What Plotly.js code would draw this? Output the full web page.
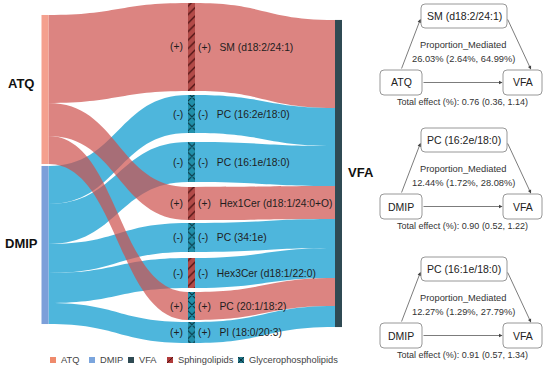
<!DOCTYPE html>
<html><head><meta charset="utf-8">
<script src="https://cdn.plot.ly/plotly-3.0.1.min.js"></script>
<style>html,body{margin:0;padding:0;background:#fff}#chart{width:554px;height:371px}</style>
</head><body><div id="chart"></div>
<script>
// ---------------- data ----------------
var exposures = ['ATQ', 'DMIP'];
var outcome = 'VFA';
var metabolites = ['SM (d18:2/24:1)', 'PC (16:2e/18:0)', 'PC (16:1e/18:0)', 'Hex1Cer (d18:1/24:0+O)',
                   'PC (34:1e)', 'Hex3Cer (d18:1/22:0)', 'PC (20:1/18:2)', 'PI (18:0/20:3)'];
var metaboliteClass = ['Sphingolipids', 'Glycerophospholipids', 'Glycerophospholipids', 'Sphingolipids',
                       'Glycerophospholipids', 'Sphingolipids', 'Glycerophospholipids', 'Glycerophospholipids'];
var metaboliteExposure = ['ATQ', 'DMIP', 'DMIP', 'ATQ', 'DMIP', 'DMIP', 'ATQ', 'DMIP'];
var flowValues = [88, 38, 40, 33, 29, 30, 28, 21];
var signExposure = ['+', '-', '-', '+', '-', '-', '+', '+'];
var signOutcome = ['+', '-', '-', '+', '-', '-', '+', '+'];

// mediation panels
var medExposure = ['ATQ', 'DMIP', 'DMIP'];
var medMediator = ['SM (d18:2/24:1)', 'PC (16:2e/18:0)', 'PC (16:1e/18:0)'];
var medProportion = ['26.03', '12.44', '12.27'];
var medPropLow = ['2.64', '1.72', '1.29'];
var medPropHigh = ['64.99', '28.08', '27.79'];
var totalEffect = ['0.76', '0.90', '0.91'];
var totalLow = ['0.36', '0.52', '0.57'];
var totalHigh = ['1.14', '1.22', '1.34'];

var legendLabels = ['ATQ', 'DMIP', 'VFA', 'Sphingolipids', 'Glycerophospholipids'];

// ---------------- styling / layout constants ----------------
var W = 554, H = 371;
function px(x) { return x / W; }
function py(y) { return 1 - y / H; }
var FONT = 'Liberation Sans, Arial, Helvetica, sans-serif';

var SK = {x0: 38.5, x1: 354.5, y0: 3, y1: 343, thick: 7};
var skW = SK.x1 - SK.x0, skH = SK.y1 - SK.y0;
var colX = {exp: 45, mid: 191.5, out: 338.5};
var expCenterY = [89.5, 245];
var midCenterY = [47, 114, 162, 203.5, 237.5, 273, 306, 332.5];
var outCenterY = 173.5;
var nodePad = 4.7;

var expNodeColor = {ATQ: '#F4A08E', DMIP: '#7C9FD9'};
var expLegendColor = {ATQ: '#EF8A6C', DMIP: '#7BA5DD'};
var linkColor = {ATQ: 'rgba(205,80,75,0.7)', DMIP: 'rgba(25,160,210,0.77)'};
var outColor = '#2F4A53';
var classStyle = {
  'Sphingolipids': {bg: '#B34B48', fg: '#4E1414', shape: '/', size: 6, solidity: 0.22, legend: '#B03A3A'},
  'Glycerophospholipids': {bg: '#2190AB', fg: '#0A3340', shape: 'x', size: 7, solidity: 0.3, legend: '#1F7385'}
};

// ---------------- sankey ----------------
var nLab = [], nCol = [], nX = [], nY = [];
exposures.forEach(function (e, i) {
  nLab.push(''); nCol.push(expNodeColor[e]);
  nX.push((colX.exp - SK.x0) / skW); nY.push((expCenterY[i] - SK.y0) / skH);
});
metabolites.forEach(function (m, i) {
  // middle nodes are transparent: the patterned class bars below show through
  nLab.push('(' + signOutcome[i] + ')\u00a0\u00a0 ' + m); nCol.push('rgba(0,0,0,0)');
  nX.push((colX.mid - SK.x0) / skW); nY.push((midCenterY[i] - SK.y0) / skH);
});
nLab.push(''); nCol.push(outColor);
nX.push((colX.out - SK.x0) / skW); nY.push((outCenterY - SK.y0) / skH);
var outIdx = 2 + metabolites.length;

var src = [], tgt = [], val = [], lcol = [];
['DMIP', 'ATQ'].forEach(function (e) {
  metabolites.forEach(function (m, i) {
    if (metaboliteExposure[i] === e) {
      src.push(exposures.indexOf(e)); tgt.push(2 + i); val.push(flowValues[i]); lcol.push(linkColor[e]);
    }
  });
});
metabolites.forEach(function (m, i) {
  src.push(2 + i); tgt.push(outIdx); val.push(flowValues[i]); lcol.push(linkColor[metaboliteExposure[i]]);
});

var sankey = {
  type: 'sankey', arrangement: 'fixed', orientation: 'h',
  domain: {x: [px(SK.x0), px(SK.x1)], y: [py(SK.y1), py(SK.y0)]},
  hoverinfo: 'none',
  textfont: {family: FONT, size: 10.3, color: '#1E1E1E', shadow: 'none'},
  node: {label: nLab, color: nCol, x: nX, y: nY, pad: nodePad, thickness: SK.thick,
         line: {width: 0}, hoverinfo: 'none'},
  link: {source: src, target: tgt, value: val, color: lcol, hoverinfo: 'none'}
};

// patterned class bars drawn under the middle sankey nodes (one trace per class)
var sumFlow = flowValues.reduce(function (a, b) { return a + b; }, 0);
var ky = (skH - (metabolites.length - 1) * nodePad) / sumFlow;
var yUnits = skH / ky;
var traces = [];
Object.keys(classStyle).forEach(function (cls) {
  var st = classStyle[cls];
  var xs = [], ys = [], bs = [], ws = [];
  metabolites.forEach(function (m, i) {
    if (metaboliteClass[i] !== cls) return;
    xs.push(colX.mid); ys.push(flowValues[i]);
    bs.push((midCenterY[i] - SK.y0) / ky - flowValues[i] / 2); ws.push(SK.thick);
  });
  traces.push({
    type: 'bar', name: cls, hoverinfo: 'skip', showlegend: false,
    x: xs, y: ys, base: bs, width: ws,
    marker: {color: st.bg, line: {width: 0},
      pattern: {shape: st.shape, fillmode: 'replace', bgcolor: st.bg, fgcolor: st.fg, fgopacity: 1,
                size: st.size, solidity: st.solidity}}
  });
});
traces.push(sankey);

// ---------------- annotations & shapes ----------------
var ann = [], shapes = [];
function txt(x, y, t, opt) {
  opt = opt || {};
  ann.push({xref: 'paper', yref: 'paper', x: px(x), y: py(y), text: t, showarrow: false,
    xanchor: opt.xa || 'center', yanchor: 'middle',
    font: {family: FONT, size: opt.size || 10, color: opt.color || '#222'}});
}
txt(21, 83, '<b>' + exposures[0] + '</b>', {size: 13, color: '#111'});
txt(21, 243, '<b>' + exposures[1] + '</b>', {size: 13, color: '#111'});
txt(345.5, 172, '<b>' + outcome + '</b>', {size: 13, color: '#111', xa: 'left'});
metabolites.forEach(function (m, i) {
  txt(colX.mid - SK.thick / 2 - 3, midCenterY[i], '(' + signExposure[i] + ')', {size: 10.3, xa: 'right', color: '#1E1E1E'});
});

function rrect(x0, y0, x1, y1, r) {
  function P(x, y) { return px(x) + ',' + py(y); }
  var d = 'M' + P(x0 + r, y0) + ' L' + P(x1 - r, y0) + ' Q' + P(x1, y0) + ' ' + P(x1, y0 + r) +
    ' L' + P(x1, y1 - r) + ' Q' + P(x1, y1) + ' ' + P(x1 - r, y1) +
    ' L' + P(x0 + r, y1) + ' Q' + P(x0, y1) + ' ' + P(x0, y1 - r) +
    ' L' + P(x0, y0 + r) + ' Q' + P(x0, y0) + ' ' + P(x0 + r, y0) + ' Z';
  shapes.push({type: 'path', xref: 'paper', yref: 'paper', path: d,
    line: {color: '#8C8C8C', width: 0.9}, fillcolor: '#FFFFFF'});
}
function arrow(x0, y0, x1, y1) {
  ann.push({xref: 'paper', yref: 'paper', x: px(x1), y: py(y1), ax: x0 - x1, ay: y0 - y1,
    axref: 'pixel', ayref: 'pixel', text: '', showarrow: true, arrowhead: 2, arrowsize: 1,
    arrowwidth: 0.7, arrowcolor: '#444', standoff: 0, startstandoff: 0});
}
var panelTop = [4, 128, 257];
medMediator.forEach(function (m, k) {
  var T = panelTop[k];
  rrect(421, T, 507, T + 24, 4);
  rrect(380, T + 66, 422, T + 91, 4);
  rrect(503, T + 66, 542, T + 91, 4);
  txt(464, T + 12, m, {size: 10.5, color: '#222'});
  txt(401, T + 78.5, medExposure[k], {size: 10.5, color: '#222'});
  txt(522.5, T + 78.5, outcome, {size: 10.5, color: '#222'});
  txt(463, T + 41, 'Proportion_Mediated', {size: 9.3, color: '#333'});
  txt(463, T + 55, medProportion[k] + '% (' + medPropLow[k] + '%, ' + medPropHigh[k] + '%)', {size: 9.3, color: '#333'});
  txt(462, T + 98, 'Total effect (%): ' + totalEffect[k] + ' (' + totalLow[k] + ', ' + totalHigh[k] + ')', {size: 9, color: '#333'});
  arrow(401, T + 66, 420.5, T + 15);
  arrow(507, T + 14, 531, T + 65.5);
  arrow(422, T + 78.5, 502.5, T + 78.5);
});

// manual legend
var legX = [50, 89, 128, 167, 238], legY = 360, sq = 6;
var legColors = [expLegendColor.ATQ, expLegendColor.DMIP, outColor,
                 classStyle['Sphingolipids'].legend, classStyle['Glycerophospholipids'].legend];
legendLabels.forEach(function (lab, i) {
  var x = legX[i];
  shapes.push({type: 'rect', xref: 'paper', yref: 'paper', x0: px(x), x1: px(x + sq),
    y0: py(legY + sq / 2), y1: py(legY - sq / 2), fillcolor: legColors[i], line: {width: 0}});
  if (lab === 'Sphingolipids' || lab === 'Glycerophospholipids') {
    var fg = classStyle[lab].fg;
    shapes.push({type: 'line', xref: 'paper', yref: 'paper', x0: px(x), y0: py(legY + sq / 2),
      x1: px(x + sq), y1: py(legY - sq / 2), line: {color: fg, width: 1}});
    if (lab === 'Glycerophospholipids') {
      shapes.push({type: 'line', xref: 'paper', yref: 'paper', x0: px(x), y0: py(legY - sq / 2),
        x1: px(x + sq), y1: py(legY + sq / 2), line: {color: fg, width: 1}});
    }
  }
  txt(x + sq + 2.5, legY, lab, {size: 9.3, color: '#444', xa: 'left'});
});

var layout = {
  width: W, height: H, margin: {l: 0, r: 0, t: 0, b: 0},
  paper_bgcolor: '#FFFFFF', plot_bgcolor: 'rgba(0,0,0,0)',
  showlegend: false, hovermode: false, barmode: 'overlay',
  font: {family: FONT, color: '#222'},
  xaxis: {domain: [px(SK.x0), px(SK.x1)], range: [SK.x0, SK.x1], visible: false, fixedrange: true},
  yaxis: {domain: [py(SK.y1), py(SK.y0)], range: [yUnits, 0], visible: false, fixedrange: true},
  shapes: shapes, annotations: ann
};

Plotly.newPlot('chart', traces, layout, {displayModeBar: false, staticPlot: true});
</script></body></html>
